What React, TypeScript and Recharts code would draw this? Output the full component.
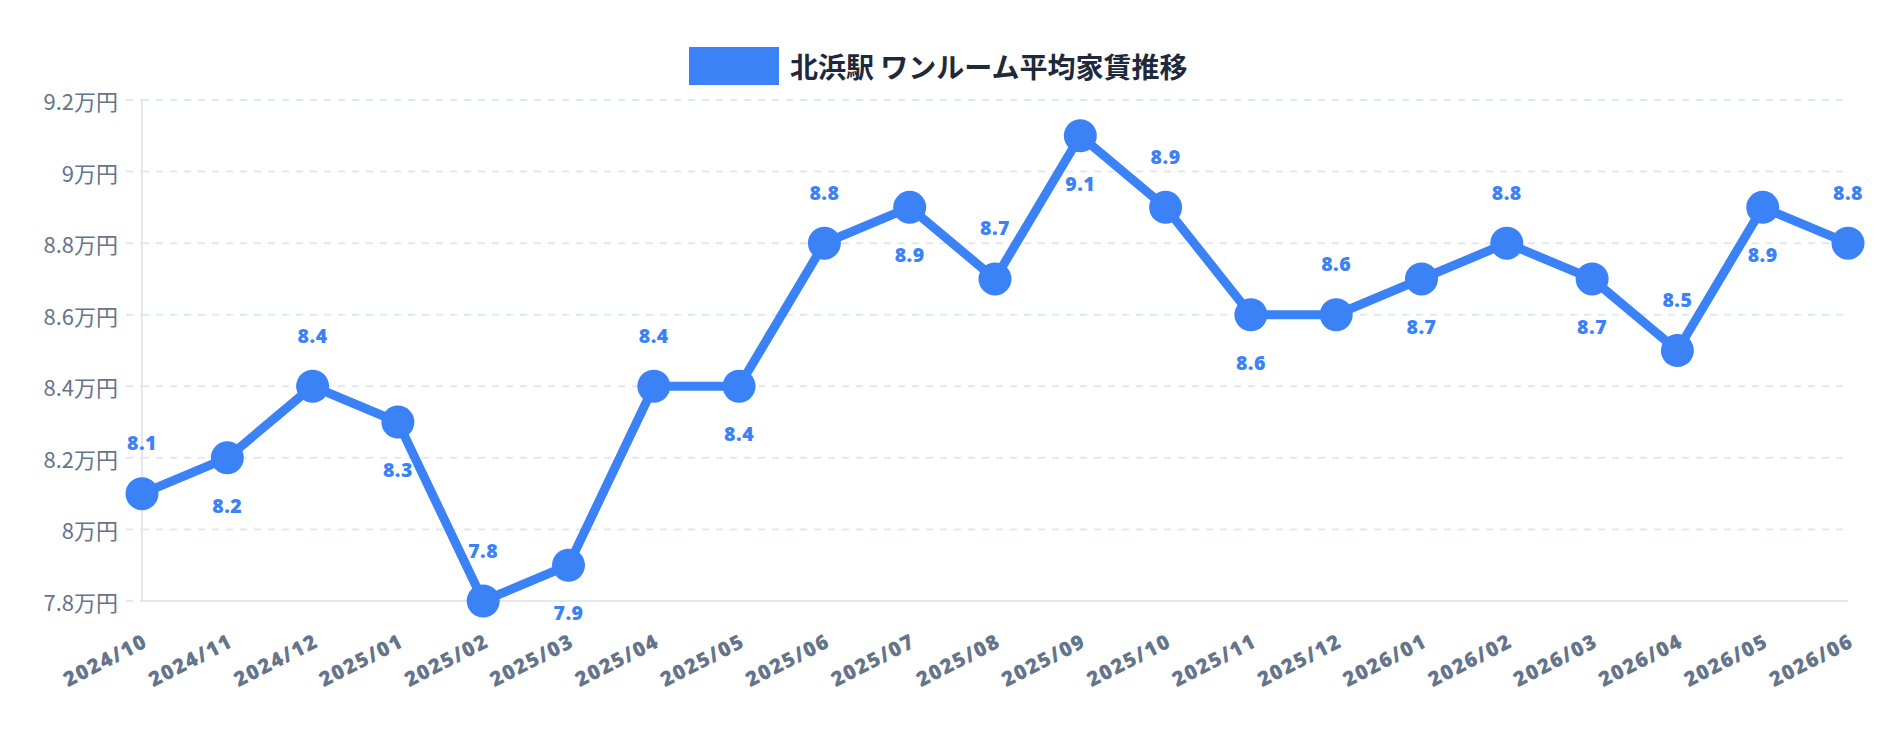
import React from "react";
import {
  LineChart,
  Line,
  XAxis,
  YAxis,
  CartesianGrid,
  LabelList,
  ReferenceLine,
} from "recharts";

// Monthly average rent for one-room units near Kitahama station (万円)
const months: string[] = [
  "2024/10", "2024/11", "2024/12", "2025/01", "2025/02", "2025/03", "2025/04",
  "2025/05", "2025/06", "2025/07", "2025/08", "2025/09", "2025/10", "2025/11",
  "2025/12", "2026/01", "2026/02", "2026/03", "2026/04", "2026/05", "2026/06",
];

const rents: number[] = [
  8.1, 8.2, 8.4, 8.3, 7.8, 7.9, 8.4, 8.4, 8.8, 8.9, 8.7,
  9.1, 8.9, 8.6, 8.6, 8.7, 8.8, 8.7, 8.5, 8.9, 8.8,
];

const yTicks: number[] = [7.8, 8.0, 8.2, 8.4, 8.6, 8.8, 9.0, 9.2];

const seriesName = "北浜駅 ワンルーム平均家賃推移";

const data = months.map((m, i) => ({ month: m, rent: rents[i] }));

const BLUE = "#3b82f6";
const AXIS_TEXT = "#64748b";
const GRID = "#e2e8f0";

const W = 1864;
const H = 716;
const X_ANGLE = 27;

const XTick = (props: any) => {
  const { x, y, payload } = props;
  const ax = x + 7;
  const ay = y + 45;
  return (
    <text
      x={ax}
      y={ay}
      transform={`rotate(-${X_ANGLE}, ${ax}, ${ay})`}
      textAnchor="end"
      fill={AXIS_TEXT}
      fontFamily="'Open Sans', sans-serif"
      fontWeight={800}
      fontSize={20.5}
      letterSpacing={1.4}
    >
      {payload.value}
    </text>
  );
};

const YTick = (props: any) => {
  const { x, y, payload } = props;
  return (
    <text
      x={x}
      y={y}
      textAnchor="end"
      dominantBaseline="central"
      fill={AXIS_TEXT}
      fontFamily="'Noto Sans CJK JP', sans-serif"
      fontSize={22}
    >
      {`${Number(payload.value.toFixed(1))}万円`}
    </text>
  );
};

// Labels alternate above / below the points
const PointLabel = (props: any) => {
  const { x, y, index, value } = props;
  const above = index % 2 === 0;
  return (
    <text
      x={x}
      y={above ? y - 43.5 : y + 55}
      textAnchor="middle"
      fill={BLUE}
      fontFamily="'Open Sans', sans-serif"
      fontWeight={800}
      fontSize={19.5}
      letterSpacing={0.5}
    >
      {value}
    </text>
  );
};

export default function App() {
  return (
    <div style={{ position: "relative", width: W, height: H, background: "#fff" }}>
      <div
        style={{
          position: "absolute",
          left: 681,
          top: 39,
          display: "flex",
          alignItems: "center",
          zIndex: 2,
        }}
      >
        <div style={{ width: 90, height: 38, background: BLUE }} />
        <span
          style={{
            marginLeft: 11,
            fontFamily: "'Noto Sans CJK JP', sans-serif",
            fontWeight: 700,
            fontSize: 28,
            color: "#1e293b",
            lineHeight: "36px",
            whiteSpace: "nowrap",
          }}
        >
          {seriesName}
        </span>
      </div>
      <LineChart
        width={W}
        height={H}
        data={data}
        margin={{ top: 92, right: 24, bottom: 23, left: 0 }}
      >
        <CartesianGrid
          vertical={false}
          stroke={GRID}
          strokeWidth={2}
          strokeDasharray="7 7"
        />
        <XAxis
          dataKey="month"
          interval={0}
          height={100}
          tickSize={0}
          tickMargin={0}
          tickLine={false}
          axisLine={{ stroke: GRID, strokeWidth: 2 }}
          tick={<XTick />}
        />
        <YAxis
          type="number"
          domain={[7.8, 9.2]}
          ticks={yTicks}
          width={134}
          tickSize={16}
          tickMargin={8}
          tickLine={{ stroke: GRID, strokeWidth: 2, strokeDasharray: "7 7" }}
          axisLine={{ stroke: GRID, strokeWidth: 2 }}
          tick={<YTick />}
        />
        <ReferenceLine
          y={7.8}
          stroke="#cbd5e1"
          strokeWidth={2}
          strokeDasharray="7 7"
        />
        <Line
          type="linear"
          dataKey="rent"
          name={seriesName}
          stroke={BLUE}
          strokeWidth={9}
          dot={{ r: 16.5, fill: BLUE, stroke: BLUE, strokeWidth: 0 }}
          activeDot={false}
          isAnimationActive={false}
        >
          <LabelList dataKey="rent" content={<PointLabel />} />
        </Line>
      </LineChart>
    </div>
  );
}
